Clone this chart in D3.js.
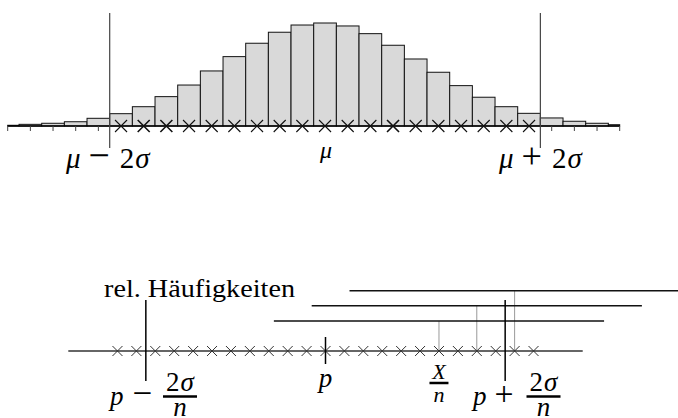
<!DOCTYPE html>
<html>
<head>
<meta charset="utf-8">
<script src="https://cdn.jsdelivr.net/npm/d3@7"></script>
<style>
body { margin: 0; background: #fff; }
text { font-family: "Liberation Serif", "DejaVu Serif", serif; fill: #000; }
</style>
</head>
<body>
<div id="chart"></div>
<script>
// top: binomial distribution, k = offset from mu (in steps of 1)
var topK = d3.range(-14, 14);
var topP = [0.06, 0.14, 0.23, 0.36, 0.65, 1.04, 1.63, 2.48, 3.46, 4.65, 5.86, 6.99, 7.92, 8.53,
            8.70, 8.45, 7.80, 6.82, 5.66, 4.54, 3.41, 2.43, 1.63, 1.07, 0.68, 0.40, 0.23, 0.11];
var sigma = 4.75;
var boldCross = [-8, -7, 3];

// bottom: relative frequencies, offset from p (in steps of 1/n)
var botK = d3.range(-11, 12);
var sampleX = [6, 8, 10];      // X/n of three samples
var halfWidth = 8.73;          // half width of the intervals

var width = 678, height = 418;

var svg = d3.select("#chart").append("svg")
    .attr("width", width)
    .attr("height", height);

// ---------- top chart ----------
var axisY = 126;
var x = d3.scaleLinear().domain([-14, 13]).range([7.7, 619.7]);
var y = d3.scaleLinear().domain([0, 8.70]).range([axisY, 23]);

var topG = svg.append("g");

topG.selectAll("rect.bar")
    .data(topK.map(function(k, i) { return {k: k, p: topP[i]}; }))
    .enter().append("rect")
    .attr("class", "bar")
    .attr("x", function(d) { return x(Math.max(d.k - 0.5, -14)); })
    .attr("y", function(d) { return y(d.p); })
    .attr("width", function(d) { return x(Math.min(d.k + 0.5, 13)) - x(Math.max(d.k - 0.5, -14)); })
    .attr("height", function(d) { return axisY - y(d.p); })
    .style("fill", "#d9d9d9")
    .style("stroke", "#111")
    .style("stroke-width", 1);

topG.append("line")
    .attr("x1", x(-14)).attr("x2", x(13))
    .attr("y1", axisY).attr("y2", axisY)
    .style("stroke", "#000").style("stroke-width", 1.5);

// ticks outside mu +- 2 sigma
topG.selectAll("line.tick")
    .data(topK.filter(function(k) { return Math.abs(k) > 2 * sigma; }))
    .enter().append("line")
    .attr("class", "tick")
    .attr("x1", function(k) { return x(k); }).attr("x2", function(k) { return x(k); })
    .attr("y1", axisY).attr("y2", axisY + 5)
    .style("stroke", "#444").style("stroke-width", 1);

// crosses inside mu +- 2 sigma
topG.selectAll("path.cross")
    .data(topK.filter(function(k) { return Math.abs(k) < 2 * sigma; }))
    .enter().append("path")
    .attr("class", "cross")
    .attr("transform", function(k) { return "translate(" + x(k) + "," + axisY + ")"; })
    .attr("d", "M-6,-6L6,6M-6,6L6,-6")
    .style("stroke", "#111")
    .style("stroke-width", function(k) { return boldCross.indexOf(k) >= 0 ? 1.6 : 1.1; });

topG.selectAll("line.sig")
    .data([-2 * sigma, 2 * sigma])
    .enter().append("line")
    .attr("class", "sig")
    .attr("x1", function(d) { return x(d); }).attr("x2", function(d) { return x(d); })
    .attr("y1", 13).attr("y2", 148)
    .style("stroke", "#444").style("stroke-width", 1.2);

// parts: [text, italic, extra gap before, size factor]
function mathLabel(g, cx, baseline, parts, size, anchor) {
    var t = g.append("text")
        .attr("x", cx).attr("y", baseline)
        .attr("text-anchor", anchor || "middle")
        .style("font-size", size + "px");
    parts.forEach(function(p) {
        t.append("tspan").text(p[0])
            .attr("dx", p[2] || 0)
            .style("font-size", (size * (p[3] || 1)) + "px")
            .style("font-style", p[1] ? "italic" : "normal");
    });
    return t;
}

mathLabel(topG, x(-2 * sigma) - 2, 168, [["μ", 1], ["−", 0, 8, 1.3], ["2", 0, 10], ["σ", 1, 1]], 29);
mathLabel(topG, x(2 * sigma), 168, [["μ", 1], ["+", 0, 8, 1.25], ["2", 0, 10], ["σ", 1, 1]], 29);
mathLabel(topG, x(0) + 1, 158, [["μ", 1]], 24);

// ---------- bottom chart ----------
var axis2 = 351;
var x2 = d3.scaleLinear().domain([-13.6, 13.6]).range([68.3, 582.7]);
var ys = d3.scalePoint().domain(d3.range(sampleX.length)).range([321, 290.7]);

var bot = svg.append("g");

bot.append("text")
    .attr("x", 104).attr("y", 297)
    .attr("textLength", 191)
    .attr("lengthAdjust", "spacingAndGlyphs")
    .style("font-size", "26px")
    .text("rel. Häufigkeiten");

bot.selectAll("line.drop")
    .data(sampleX)
    .enter().append("line")
    .attr("class", "drop")
    .attr("x1", function(d) { return x2(d); }).attr("x2", function(d) { return x2(d); })
    .attr("y1", function(d, i) { return ys(i); }).attr("y2", axis2)
    .style("stroke", "#999").style("stroke-width", 1);

bot.selectAll("line.interval")
    .data(sampleX)
    .enter().append("line")
    .attr("class", "interval")
    .attr("x1", function(d) { return x2(d - halfWidth); })
    .attr("x2", function(d) { return x2(d + halfWidth); })
    .attr("y1", function(d, i) { return ys(i); }).attr("y2", function(d, i) { return ys(i); })
    .style("stroke", "#111").style("stroke-width", 1.5);

bot.append("line")
    .attr("x1", x2(-13.6)).attr("x2", x2(13.6))
    .attr("y1", axis2).attr("y2", axis2)
    .style("stroke", "#333").style("stroke-width", 1.5);

bot.selectAll("path.cross")
    .data(botK)
    .enter().append("path")
    .attr("class", "cross")
    .attr("transform", function(k) { return "translate(" + x2(k) + "," + axis2 + ")"; })
    .attr("d", "M-5,-5L5,5M-5,5L5,-5")
    .style("stroke", "#333").style("stroke-width", 1);

bot.append("line")
    .attr("x1", x2(0)).attr("x2", x2(0))
    .attr("y1", 337).attr("y2", 364)
    .style("stroke", "#000").style("stroke-width", 1.5);

bot.selectAll("line.sig")
    .data([-2 * sigma, 2 * sigma])
    .enter().append("line")
    .attr("class", "sig")
    .attr("x1", function(d) { return x2(d); }).attr("x2", function(d) { return x2(d); })
    .attr("y1", 300).attr("y2", 381)
    .style("stroke", "#000").style("stroke-width", 1.5);

function fraction(g, cx, barY, num, den, size, w, numOff, denOff) {
    var n = g.append("text").attr("x", cx).attr("y", barY - numOff)
        .attr("text-anchor", "middle").style("font-size", size + "px");
    num.forEach(function(p) {
        n.append("tspan").text(p[0]).attr("dx", p[2] || 0)
            .style("font-style", p[1] ? "italic" : "normal");
    });
    g.append("line")
        .attr("x1", cx - w / 2).attr("x2", cx + w / 2)
        .attr("y1", barY).attr("y2", barY)
        .style("stroke", "#000").style("stroke-width", 2.5);
    var d = g.append("text").attr("x", cx).attr("y", barY + denOff)
        .attr("text-anchor", "middle").style("font-size", size + "px");
    den.forEach(function(p) {
        d.append("tspan").text(p[0]).style("font-style", p[1] ? "italic" : "normal");
    });
}

mathLabel(bot, 110, 405, [["p", 1], ["−", 0, 9, 1.3]], 27, "start");
fraction(bot, 180, 396.5, [["2", 0], ["σ", 1, 1]], [["n", 1]], 27, 34, 5.5, 19);

mathLabel(bot, x2(0), 387, [["p", 1]], 27);

fraction(bot, x2(sampleX[0]), 383, [["X", 1]], [["n", 1]], 22, 19, 4, 19);

mathLabel(bot, 473, 405, [["p", 1], ["+", 0, 8, 1.25]], 27, "start");
fraction(bot, 543.5, 396.5, [["2", 0], ["σ", 1, 1]], [["n", 1]], 27, 34, 5.5, 19);
</script>
</body>
</html>
